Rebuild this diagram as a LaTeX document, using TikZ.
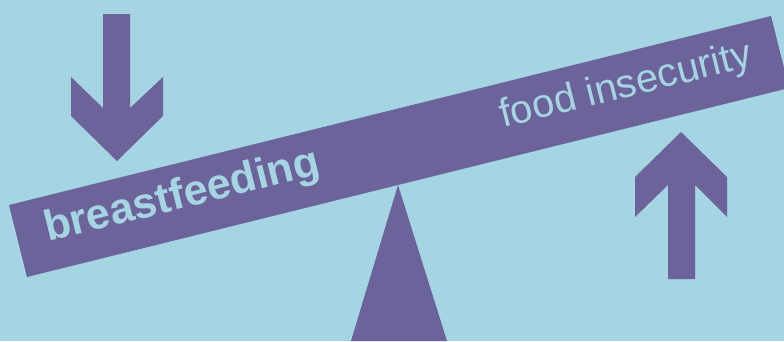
\documentclass[tikz,border=0pt]{standalone}
\usepackage{fontspec}
\setmainfont{Liberation Sans}
\usepackage{tikz}
\usepackage{xcolor}
\definecolor{skyback}{RGB}{165, 212, 226}
\definecolor{seesawpurple}{RGB}{107, 99, 153}

\begin{document}
\begin{tikzpicture}[x=1pt, y=-1pt]
    % Background
    \fill[skyback] (0,0) rectangle (784,341);
    \clip (0,0) rectangle (784,341);

    % Down arrow - Top Left
    \fill[seesawpurple] (103,14) -- (130,14) -- (130,108) -- (163,77) -- (163,116)
        -- (117,161) -- (71,116) -- (71,77) -- (103,108) -- cycle;

    % Up arrow - Right
    \fill[seesawpurple] (668,279) -- (695,279) -- (695,185) -- (727,217) -- (727,177)
        -- (681,132) -- (635,177) -- (635,217) -- (668,185) -- cycle;

    % Fulcrum
    \fill[seesawpurple] (398,185) -- (447,341) -- (351,341) -- cycle;

    % Tilted beam
    \fill[seesawpurple] (9,205) -- (771,16) -- (789,88) -- (27,277) -- cycle;
    \node[rotate=13.93, anchor=base west, inner sep=0pt, text=skyback,
        font=\fontsize{43}{50}\selectfont\bfseries] (low) at (48,242) {breastfeeding};
    \node[rotate=13.93, anchor=base west, inner sep=0pt, text=skyback,
        font=\fontsize{40}{48}\selectfont] (high) at (503,128) {food insecurity};
\end{tikzpicture}
\end{document}
